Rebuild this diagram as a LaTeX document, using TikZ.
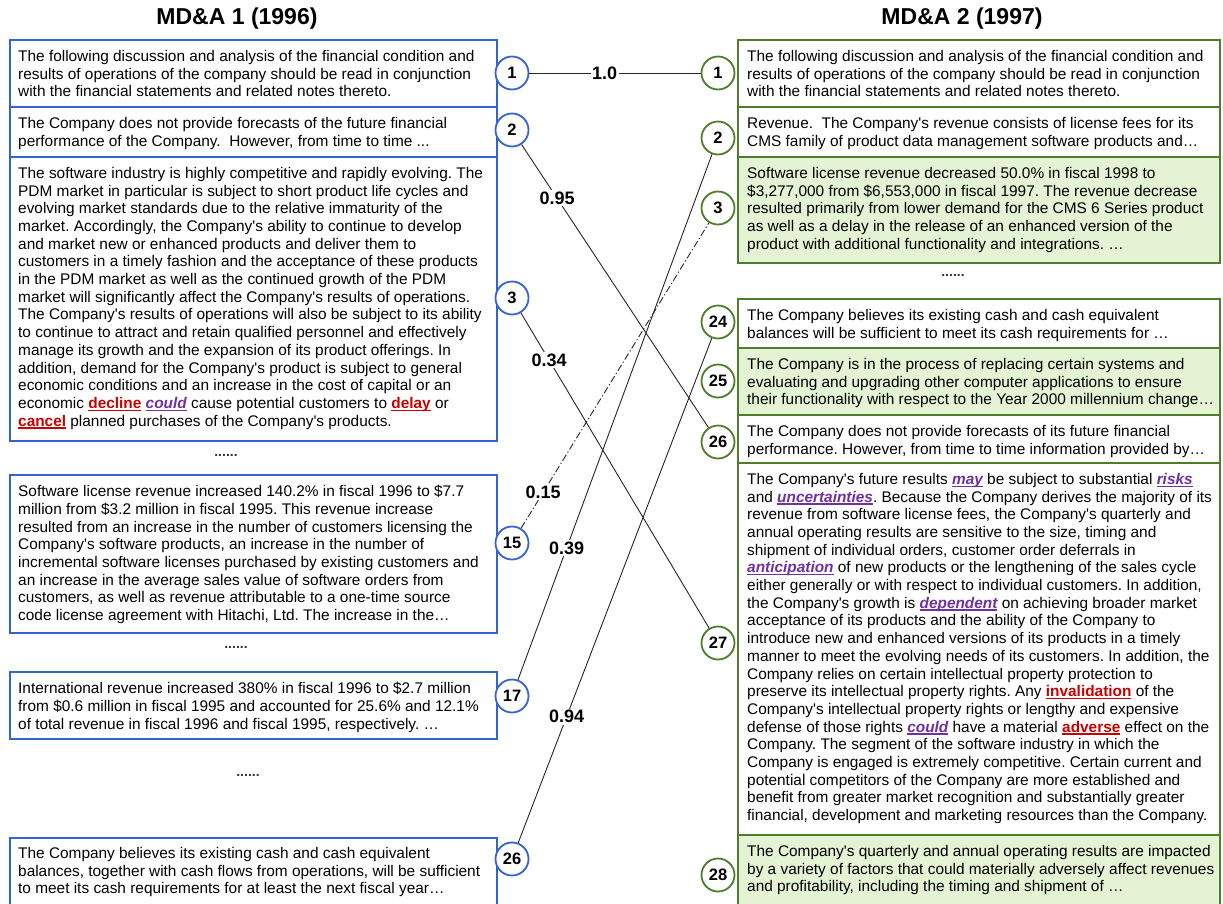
\documentclass[tikz,border=0pt]{standalone}
\usepackage{fontspec}
\setmainfont{Liberation Sans}[Ligatures=TeXOff]
\definecolor{bblue}{HTML}{3563D6}
\definecolor{ggreen}{HTML}{4E7E2B}
\definecolor{gfill}{HTML}{E3F3D3}
\definecolor{hred}{HTML}{C80000}
\definecolor{hpur}{HTML}{7030A0}
\newsavebox\myulbox
\newcommand{\myul}[1]{\sbox\myulbox{#1}\rlap{\rule[-2.6pt]{\wd\myulbox}{1.4pt}}\usebox\myulbox}
\newcommand{\hr}[1]{\textcolor{hred}{\bfseries\myul{#1}}}
\newcommand{\hp}[1]{\textcolor{hpur}{\bfseries\itshape\myul{#1}}}
\frenchspacing
\tikzset{
  lbox/.style={draw=bblue, line width=2.5pt, anchor=north west, inner sep=0pt, outer sep=0pt, minimum width=487pt},
  rbox/.style={draw=ggreen, line width=2.5pt, anchor=north west, inner sep=0pt, outer sep=0pt, minimum width=482pt},
  gbox/.style={rbox, fill=gfill},
  txt/.style={anchor=north west, align=left, inner sep=0pt, font=\fontsize{15.4}{17.7}\selectfont\frenchspacing, execute at begin node={\rule{0pt}{12pt}}},
  lnum/.style={circle, draw=bblue, line width=1.8pt, minimum size=33pt, inner sep=0pt, fill=white, font=\bfseries\fontsize{16.5}{16.5}\selectfont},
  rnum/.style={lnum, draw=ggreen},
  conn/.style={draw=black!85, line width=0.9pt},
  wlab/.style={fill=white, inner sep=1.5pt, font=\bfseries\fontsize{18}{18}\selectfont},
  dotsty/.style={font=\bfseries\fontsize{14}{14}\selectfont, text=black!80},
  ttl/.style={font=\bfseries\fontsize{23}{23}\selectfont}
}
\begin{document}
\begin{tikzpicture}[x=1pt,y=-1pt]
\useasboundingbox (0,0) rectangle (1223,903);
\fill[white] (0,0) rectangle (1223,903);
\clip (0,0) rectangle (1223,903);

\node[ttl] (t1) at (237,19) {MD\&A 1 (1996)};
\node[ttl] (t2) at (962,19) {MD\&A 2 (1997)};

% left boxes
\node[lbox, minimum height=67pt] (L1) at (10,40) {};
\node[lbox, minimum height=50pt] (L2) at (10,107) {};
\node[lbox, minimum height=284pt] (L3) at (10,157) {};
\node[lbox, minimum height=158pt] (L15) at (10,475) {};
\node[lbox, minimum height=67pt] (L17) at (10,672) {};
\node[lbox, minimum height=75pt] (L26) at (10,838) {};

\node[txt] (L1t) at (18,50) {The following discussion and analysis of the financial condition and\\
results of operations of the company should be read in conjunction\\
with the financial statements and related notes thereto.};
\node[txt] (L2t) at (18,117) {The Company does not provide forecasts of the future financial\\
performance of the Company.\ \ However, from time to time ...};
\node[txt] (L3t) at (18,167) {The software industry is highly competitive and rapidly evolving. The\\
PDM market in particular is subject to short product life cycles and\\
evolving market standards due to the relative immaturity of the\\
market. Accordingly, the Company's ability to continue to develop\\
and market new or enhanced products and deliver them to\\
customers in a timely fashion and the acceptance of these products\\
in the PDM market as well as the continued growth of the PDM\\
market will significantly affect the Company's results of operations.\\
The Company's results of operations will also be subject to its ability\\
to continue to attract and retain qualified personnel and effectively\\
manage its growth and the expansion of its product offerings. In\\
addition, demand for the Company's product is subject to general\\
economic conditions and an increase in the cost of capital or an\\
economic \hr{decline} \hp{could} cause potential customers to \hr{delay} or\\
\hr{cancel} planned purchases of the Company's products.};
\node[txt] (L15t) at (18,485) {Software license revenue increased 140.2\% in fiscal 1996 to \$7.7\\
million from \$3.2 million in fiscal 1995. This revenue increase\\
resulted from an increase in the number of customers licensing the\\
Company's software products, an increase in the number of\\
incremental software licenses purchased by existing customers and\\
an increase in the average sales value of software orders from\\
customers, as well as revenue attributable to a one-time source\\
code license agreement with Hitachi, Ltd. The increase in the…};
\node[txt] (L17t) at (18,682) {International revenue increased 380\% in fiscal 1996 to \$2.7 million\\
from \$0.6 million in fiscal 1995 and accounted for 25.6\% and 12.1\%\\
of total revenue in fiscal 1996 and fiscal 1995, respectively. …};
\node[txt] (L26t) at (18,847) {The Company believes its existing cash and cash equivalent\\
balances, together with cash flows from operations, will be sufficient\\
to meet its cash requirements for at least the next fiscal year…};

\node[dotsty] (d1) at (226,455) {......};
\node[dotsty] (d2) at (236,647) {......};
\node[dotsty] (d3) at (248,775) {......};
\node[dotsty] (d4) at (953,275) {......};

% right boxes
\node[rbox, minimum height=67pt] (R1) at (738,40) {};
\node[rbox, minimum height=50pt] (R2) at (738,107) {};
\node[gbox, minimum height=106pt] (R3) at (738,157) {};
\node[rbox, minimum height=49pt] (R24) at (738,299) {};
\node[gbox, minimum height=67pt] (R25) at (738,348) {};
\node[rbox, minimum height=48pt] (R26) at (738,415) {};
\node[rbox, minimum height=372pt] (R27) at (738,463) {};
\node[gbox, minimum height=75pt] (R28) at (738,835) {};

\node[txt] (R1t) at (747,50) {The following discussion and analysis of the financial condition and\\
results of operations of the company should be read in conjunction\\
with the financial statements and related notes thereto.};
\node[txt] (R2t) at (747,117) {Revenue.\ \ The Company's revenue consists of license fees for its\\
CMS family of product data management software products and…};
\node[txt] (R3t) at (747,167) {Software license revenue decreased 50.0\% in fiscal 1998 to\\
\$3,277,000 from \$6,553,000 in fiscal 1997. The revenue decrease\\
resulted primarily from lower demand for the CMS 6 Series product\\
as well as a delay in the release of an enhanced version of the\\
product with additional functionality and integrations. …};
\node[txt] (R24t) at (747,309) {The Company believes its existing cash and cash equivalent\\
balances will be sufficient to meet its cash requirements for …};
\node[txt] (R25t) at (747,358) {The Company is in the process of replacing certain systems and\\
evaluating and upgrading other computer applications to ensure\\
their functionality with respect to the Year 2000 millennium change…};
\node[txt] (R26t) at (747,425) {The Company does not provide forecasts of its future financial\\
performance. However, from time to time information provided by…};
\node[txt] (R27t) at (747,473) {The Company's future results \hp{may} be subject to substantial \hp{risks}\\
and \hp{uncertainties}. Because the Company derives the majority of its\\
revenue from software license fees, the Company's quarterly and\\
annual operating results are sensitive to the size, timing and\\
shipment of individual orders, customer order deferrals in\\
\hp{anticipation} of new products or the lengthening of the sales cycle\\
either generally or with respect to individual customers. In addition,\\
the Company's growth is \hp{dependent} on achieving broader market\\
acceptance of its products and the ability of the Company to\\
introduce new and enhanced versions of its products in a timely\\
manner to meet the evolving needs of its customers. In addition, the\\
Company relies on certain intellectual property protection to\\
preserve its intellectual property rights. Any \hr{invalidation} of the\\
Company's intellectual property rights or lengthy and expensive\\
defense of those rights \hp{could} have a material \hr{adverse} effect on the\\
Company. The segment of the software industry in which the\\
Company is engaged is extremely competitive. Certain current and\\
potential competitors of the Company are more established and\\
benefit from greater market recognition and substantially greater\\
financial, development and marketing resources than the Company.};
\node[txt] (R28t) at (747,845) {The Company's quarterly and annual operating results are impacted\\
by a variety of factors that could materially adversely affect revenues\\
and profitability, including the timing and shipment of …};

% number circles
\node[lnum] (cl1) at (512,73) {1};
\node[lnum] (cl2) at (512,130) {2};
\node[lnum] (cl3) at (512,298) {3};
\node[lnum] (cl15) at (512,543) {15};
\node[lnum] (cl17) at (512,696) {17};
\node[lnum] (cl26) at (512,859) {26};

\node[rnum] (cr1) at (718,73) {1};
\node[rnum] (cr2) at (718,138) {2};
\node[rnum] (cr3) at (718,208) {3};
\node[rnum] (cr24) at (718,322) {24};
\node[rnum] (cr25) at (718,381) {25};
\node[rnum] (cr26) at (718,442) {26};
\node[rnum] (cr27) at (718,643) {27};
\node[rnum] (cr28) at (718,875) {28};

% connectors
\draw[conn] (cl1) -- node[wlab, pos=0.44] (w1) {1.0} (cr1);
\draw[conn] (cl2) -- node[wlab, pos=0.19] (w2) {0.95} (cr26);
\draw[conn] (cl3) -- node[wlab, pos=0.15] (w3) {0.34} (cr27);
\draw[conn, dash pattern=on 7pt off 2.5pt on 1.2pt off 2.5pt] (cl15) -- node[wlab, pos=0.117] (w4) {0.15} (cr3);
\draw[conn] (cl17) -- node[wlab, pos=0.251] (w5) {0.39} (cr2);
\draw[conn] (cl26) -- node[wlab, pos=0.25] (w6) {0.94} (cr24);
\end{tikzpicture}
\end{document}
